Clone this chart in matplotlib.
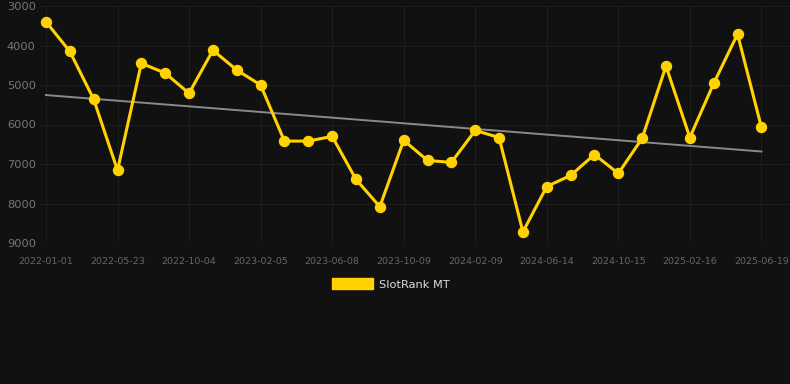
import matplotlib
matplotlib.use("Agg")
import matplotlib.pyplot as plt
from matplotlib.patches import Patch
import numpy as np

BG = "#111111"
GOLD = "#FFD200"

dates = [
    "2022-01-01", "2022-02-17", "2022-04-05", "2022-05-23", "2022-07-06",
    "2022-08-20", "2022-10-04", "2022-11-14", "2022-12-26", "2023-02-05",
    "2023-03-18", "2023-04-28", "2023-06-08", "2023-07-19", "2023-08-29",
    "2023-10-09", "2023-11-19", "2023-12-30", "2024-02-09", "2024-03-21",
    "2024-05-03", "2024-06-14", "2024-07-25", "2024-09-04", "2024-10-15",
    "2024-11-25", "2025-01-06", "2025-02-16", "2025-03-29", "2025-05-09",
    "2025-06-19",
]
ranks = [
    3400, 4150, 5360, 7160, 4450, 4700, 5210, 4120, 4620, 5000,
    6420, 6420, 6300, 7390, 8080, 6400, 6910, 6960, 6150, 6330,
    8720, 7570, 7290, 6760, 7240, 6350, 4520, 6330, 4960, 3710,
    6070,
]
y_ticks = [3000, 4000, 5000, 6000, 7000, 8000, 9000]

x = np.arange(len(dates))

# straight trend line through the series
slope, intercept = np.polyfit(x, ranks, 1)
trend = slope * x + intercept

fig = plt.figure(figsize=(7.9, 3.84), dpi=100, facecolor=BG)
ax = fig.add_axes([40 / 790, 1 - 243 / 384, 750 / 790, 237 / 384])
ax.set_facecolor(BG)

ax.plot(x, trend, color="#8a8a8a", linewidth=1.4, zorder=2)
ax.plot(x, ranks, color=GOLD, linewidth=2.2, marker="o", markersize=7.2,
        zorder=3)

ax.set_ylim(9000, 3000)
ax.set_xlim(-0.25, 31.2)
ax.set_yticks(y_ticks)
ax.set_yticklabels([str(v) for v in y_ticks])
tick_idx = list(range(0, len(dates), 3))
ax.set_xticks(tick_idx)
ax.set_xticklabels([dates[i] for i in tick_idx])

ax.grid(True, color="#1d1d1d", linewidth=0.8)
ax.set_axisbelow(True)
for s in ax.spines.values():
    s.set_visible(False)
ax.tick_params(axis="both", length=0)
ax.tick_params(axis="y", labelsize=8.2, labelcolor="#777777", pad=3)
ax.tick_params(axis="x", labelsize=6.8, labelcolor="#666666", pad=10)

handle = Patch(facecolor=GOLD, edgecolor=GOLD)
fig.legend([handle], ["SlotRank MT"], loc="center",
           bbox_to_anchor=(0.495, 1 - 284 / 384), frameon=False,
           fontsize=8.2, labelcolor="#dddddd", handlelength=3.6,
           handleheight=1.05, handletextpad=0.5)

fig.savefig("out.png", dpi=100, facecolor=BG)
